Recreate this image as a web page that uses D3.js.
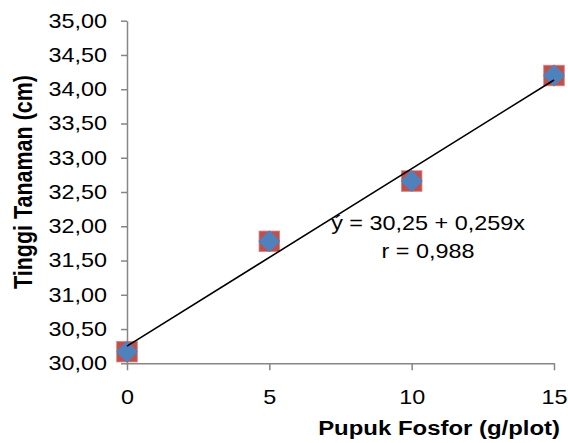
<!DOCTYPE html>
<html lang="en">
<head>
    <meta charset="UTF-8">
    <title>Tinggi Tanaman vs Pupuk Fosfor</title>
    <script src="https://d3js.org/d3.v7.min.js"></script>
    <style>
        body { margin: 0; background: #fff; }
        text { font-family: "Liberation Sans", Arial, sans-serif; fill: #000; }
    </style>
</head>
<body>
<script>
    // data
    const dosis = [0, 5, 10, 15];
    const tinggi = [30.17, 31.78, 32.66, 34.20];
    const yTicks = [30, 30.5, 31, 31.5, 32, 32.5, 33, 33.5, 34, 34.5, 35];
    const xTicks = [0, 5, 10, 15];
    // regression from the annotation
    const intercept = 30.25;
    const slope = 0.259;
    const eqLines = ["ý = 30,25 + 0,259x", "r = 0,988"];

    const W = 568, H = 443;
    const sx = 1.17; // the original is stretched a little sideways

    const svg = d3.select("body").append("svg")
        .attr("width", W)
        .attr("height", H);

    const x = d3.scaleLinear().domain([0, 15]).range([127, 554]);
    const y = d3.scaleLinear().domain([30, 35]).range([363.3, 20.7]);

    const fmt = d => d3.format(".2f")(d).replace(".", ",");

    // y axis
    const yAxis = svg.append("g")
        .attr("transform", `translate(${x(0)},0)`)
        .call(d3.axisLeft(y).tickValues(yTicks).tickSize(6).tickSizeOuter(0).tickFormat(fmt));
    yAxis.selectAll("path, line").attr("stroke", "#868686").attr("stroke-width", 1.5);
    yAxis.selectAll("text")
        .attr("x", -17.1)
        .attr("transform", `scale(${sx},1)`)
        .style("font-size", "20px");

    // x axis
    const xAxis = svg.append("g")
        .attr("transform", `translate(0,${y(30)})`)
        .call(d3.axisBottom(x).tickValues(xTicks).tickSize(7).tickSizeOuter(0).tickFormat(d3.format("d")));
    xAxis.selectAll("path, line").attr("stroke", "#868686").attr("stroke-width", 1.5);
    xAxis.selectAll(".tick text")
        .attr("y", 27)
        .attr("transform", `scale(${sx},1)`)
        .style("font-size", "20px");
    // keep labels centred under the ticks after the stretch
    xAxis.selectAll(".tick").each(function(d) {
        d3.select(this).select("text").attr("x", 0);
    });

    // markers: red square with blue diamond
    const pts = svg.append("g").selectAll("g")
        .data(dosis.map((d, i) => [d, tinggi[i]]))
        .join("g")
        .attr("transform", d => `translate(${x(d[0])},${y(d[1])})`);

    pts.append("rect")
        .attr("x", -10.3).attr("y", -10.3)
        .attr("width", 20.6).attr("height", 20.6)
        .attr("fill", "#C0504D")
        .attr("stroke", "#D58683")
        .attr("stroke-width", 0.8);

    pts.append("path")
        .attr("d", "M0,-11L11,0L0,11L-11,0Z")
        .attr("fill", "#4F81BD");

    // trend line
    svg.append("line")
        .attr("x1", x(0)).attr("y1", y(intercept))
        .attr("x2", x(15)).attr("y2", y(intercept + slope * 15))
        .attr("stroke", "#000")
        .attr("stroke-width", 1.6);

    // equation
    svg.append("g").selectAll("text")
        .data(eqLines)
        .join("text")
        .attr("transform", (d, i) => `translate(428,${230 + i * 28}) scale(${sx},1)`)
        .attr("text-anchor", "middle")
        .style("font-size", "20px")
        .text(d => d);

    // axis titles
    svg.append("text")
        .attr("transform", `translate(560,435) scale(1.14,1)`)
        .attr("text-anchor", "end")
        .style("font-size", "21px")
        .style("font-weight", "bold")
        .text("Pupuk Fosfor (g/plot)");

    svg.append("text")
        .attr("transform", `translate(32,${(20.7 + 363.3) / 2 - 10}) scale(${sx},1) rotate(-90)`)
        .attr("text-anchor", "middle")
        .style("font-size", "21.5px")
        .style("font-weight", "bold")
        .text("Tinggi Tanaman (cm)");
</script>
</body>
</html>
